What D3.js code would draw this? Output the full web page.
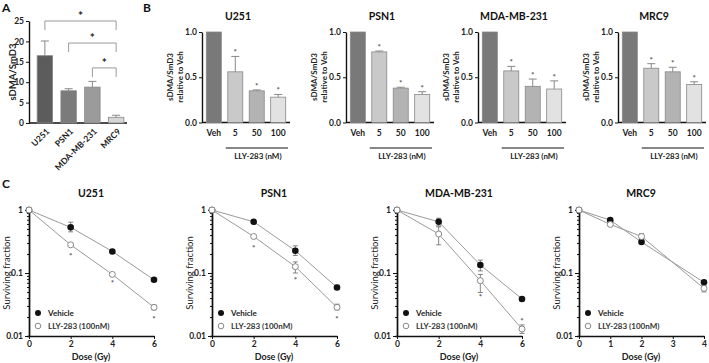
<!DOCTYPE html>
<html>
<head>
<meta charset="utf-8">
<script src="https://cdn.jsdelivr.net/npm/d3@7"></script>
<style>
  body { margin: 0; background: #fff; }
  svg { font-family: Lato, "Open Sans", sans-serif; font-weight: bold; }
</style>
</head>
<body>
<div id="fig"></div>
<script>
// ---- Panel A data
const cellLinesA = ["U251", "PSN1", "MDA-MB-231", "MRC9"];
const ratioA = [16.5, 7.9, 8.8, 1.4];
const ratioErrA = [3.6, 0.5, 1.4, 0.5];
const yTicksA = [0, 5, 10, 15, 20, 25];
// pairs compared, and bracket height in data units
const bracketPairsA = [["U251", "MRC9"], ["PSN1", "MRC9"], ["MDA-MB-231", "MRC9"]];
const bracketLevelA = [25, 19.6, 13.5];

// ---- Panel B data
const dosesB = ["Veh", "5", "50", "100"];
const titlesB = ["U251", "PSN1", "MDA-MB-231", "MRC9"];
const relB = [
  [1.0, 0.56, 0.35, 0.28],
  [1.0, 0.78, 0.38, 0.31],
  [1.0, 0.57, 0.40, 0.37],
  [1.0, 0.60, 0.56, 0.42]
];
const relErrB = [
  [0, 0.17, 0.01, 0.03],
  [0, 0.01, 0.01, 0.03],
  [0, 0.05, 0.08, 0.09],
  [0, 0.05, 0.05, 0.03]
];
const yTicksB = [0, 0.5, 1.0];

// ---- Panel C data
const titlesC = ["U251", "PSN1", "MDA-MB-231", "MRC9"];
const doseC = [[0, 2, 4, 6], [0, 2, 4, 6], [0, 2, 4, 6], [0, 1, 2, 4]];
const xTicksC = [[0, 2, 4, 6], [0, 2, 4, 6], [0, 2, 4, 6], [0, 1, 2, 3, 4]];
const vehC = [
  [1, 0.53, 0.22, 0.078],
  [1, 0.65, 0.226, 0.059],
  [1, 0.65, 0.134, 0.0387],
  [1, 0.69, 0.31, 0.071]
];
const vehHiC = [
  [1, 0.64, 0.23, 0.082],
  [1, 0.67, 0.27, 0.064],
  [1, 0.74, 0.16, 0.040],
  [1, 0.72, 0.32, 0.073]
];
const vehLoC = [
  [1, 0.45, 0.21, 0.074],
  [1, 0.63, 0.19, 0.055],
  [1, 0.56, 0.108, 0.037],
  [1, 0.66, 0.30, 0.069]
];
const llyC = [
  [1, 0.28, 0.095, 0.0285],
  [1, 0.38, 0.126, 0.0285],
  [1, 0.416, 0.0755, 0.0129],
  [1, 0.59, 0.38, 0.057]
];
const llyHiC = [
  [1, 0.29, 0.10, 0.031],
  [1, 0.40, 0.15, 0.032],
  [1, 0.54, 0.095, 0.015],
  [1, 0.61, 0.42, 0.063]
];
const llyLoC = [
  [1, 0.27, 0.09, 0.026],
  [1, 0.36, 0.10, 0.026],
  [1, 0.28, 0.049, 0.011],
  [1, 0.57, 0.34, 0.050]
];
// significance marks: [dose, surviving-fraction level where the * sits]
const starsC = [
  [[2, 0.193], [4, 0.072], [6, 0.0193]],
  [[2, 0.261], [4, 0.079], [6, 0.0195]],
  [[4, 0.043], [6, 0.018]],
  []
];
const yTicksC = [1, 0.1, 0.01];

const svg = d3.select("#fig").append("svg")
    .attr("width", 709)
    .attr("height", 363);

// panel letters
svg.selectAll("text.letter")
  .data([["A", 2, 12], ["B", 143, 12], ["C", 2, 188]])
  .join("text")
    .attr("class", "letter")
    .attr("x", d => d[1])
    .attr("y", d => d[2])
    .attr("font-size", 12)
    .attr("fill", "#111")
    .text(d => d[0]);

function styleAxis(g) {
  g.select(".domain").attr("stroke", "#111").attr("stroke-width", 1.4);
  g.selectAll(".tick line").attr("stroke", "#111").attr("stroke-width", 1);
  g.selectAll(".tick text").attr("font-size", 8.5).attr("fill", "#222")
    .attr("font-family", "Lato, sans-serif").attr("font-weight", "bold");
}

// ================= Panel A =================
{
  const y = d3.scaleLinear().domain([0, 25]).range([123, 21]);
  const x = d3.scaleBand().domain(cellLinesA).range([33, 128])
      .paddingInner(0.35).paddingOuter(0.175);
  const fills = ["#5c5c5c", "#7b7b7b", "#9b9b9b", "#d6d6d6"];
  const g = svg.append("g");

  g.append("g").attr("transform", "translate(29,0)")
    .call(d3.axisLeft(y).tickValues(yTicksA).tickSize(3).tickPadding(2).tickSizeOuter(0))
    .call(styleAxis);
  g.append("line").attr("x1", 29).attr("x2", 127).attr("y1", 123).attr("y2", 123)
    .attr("stroke", "#111").attr("stroke-width", 1.4);

  const rows = cellLinesA.map((c, i) => ({c, v: ratioA[i], e: ratioErrA[i], f: fills[i]}));
  g.selectAll("rect.bar").data(rows).join("rect")
    .attr("x", d => x(d.c)).attr("width", x.bandwidth())
    .attr("y", d => y(d.v)).attr("height", d => y(0) - y(d.v))
    .attr("fill", d => d.f).attr("stroke", "#888").attr("stroke-width", 0.8);
  g.selectAll("path.err").data(rows).join("path")
    .attr("fill", "none").attr("stroke", "#888").attr("stroke-width", 1)
    .attr("d", d => {
      const cx = x(d.c) + x.bandwidth() / 2;
      return `M${cx},${y(d.v)}V${y(d.v + d.e)}M${cx - 4},${y(d.v + d.e)}H${cx + 4}`;
    });

  g.selectAll("text.xl").data(cellLinesA).join("text")
    .attr("transform", d => `translate(${x(d) + x.bandwidth() / 2 + 5},132) rotate(-45)`)
    .attr("text-anchor", "end").attr("font-size", 8.5).attr("fill", "#222")
    .text(d => d);

  g.append("text")
    .attr("transform", `translate(16,72) rotate(-90)`)
    .attr("text-anchor", "middle").attr("font-size", 9.5).attr("fill", "#222")
    .text("sDMA/SmD3");

  bracketPairsA.forEach(([a, b], i) => {
    const x1 = x(a) + x.bandwidth() / 2, x2 = x(b) + x.bandwidth() / 2;
    const yy = y(bracketLevelA[i]);
    g.append("path").attr("fill", "none").attr("stroke", "#999").attr("stroke-width", 1)
      .attr("d", `M${x1},${yy + 9}V${yy}H${x2}V${yy + 9}`);
    g.append("text").attr("x", (x1 + x2) / 2).attr("y", yy - 1)
      .attr("text-anchor", "middle").attr("font-size", 12).attr("fill", "#222").text("*");
  });
}

// ================= Panel B =================
const axisXB = [202, 346, 478, 618];
titlesB.forEach((title, k) => {
  const x0 = axisXB[k];
  const y = d3.scaleLinear().domain([0, 1]).range([122.5, 32]);
  const x = d3.scaleBand().domain(dosesB).range([x0, x0 + 88])
      .paddingInner(0.3).paddingOuter(0.2);
  const fills = ["#797979", "#c9c9c9", "#b3b3b3", "#e2e2e2"];
  const g = svg.append("g");

  g.append("text").attr("x", x0 + 36).attr("y", 20).attr("text-anchor", "middle")
    .attr("font-size", 10.5).attr("fill", "#111").text(title);

  g.append("g").attr("transform", `translate(${x0},0)`)
    .call(d3.axisLeft(y).tickValues(yTicksB).tickFormat(d3.format(".1f"))
      .tickSize(3).tickPadding(2).tickSizeOuter(0))
    .call(styleAxis);
  g.append("line").attr("x1", x0).attr("x2", x0 + 88).attr("y1", 122.5).attr("y2", 122.5)
    .attr("stroke", "#111").attr("stroke-width", 1.4);

  const rows = dosesB.map((d, i) => ({d, v: relB[k][i], e: relErrB[k][i], f: fills[i]}));
  g.selectAll("rect").data(rows).join("rect")
    .attr("x", d => x(d.d)).attr("width", x.bandwidth())
    .attr("y", d => y(d.v)).attr("height", d => y(0) - y(d.v))
    .attr("fill", d => d.f).attr("stroke", "#888").attr("stroke-width", 0.8);
  g.selectAll("path.err").data(rows.filter(d => d.e > 0)).join("path")
    .attr("fill", "none").attr("stroke", "#888").attr("stroke-width", 1)
    .attr("d", d => {
      const cx = x(d.d) + x.bandwidth() / 2;
      return `M${cx},${y(d.v)}V${y(d.v + d.e)}M${cx - 4},${y(d.v + d.e)}H${cx + 4}`;
    });
  g.selectAll("text.star").data(rows.filter(d => d.d !== "Veh")).join("text")
    .attr("x", d => x(d.d) + x.bandwidth() / 2).attr("y", d => y(d.v + d.e) - 1)
    .attr("text-anchor", "middle").attr("font-size", 8).attr("fill", "#555").text("*");

  g.selectAll("text.xl").data(dosesB).join("text")
    .attr("x", d => x(d) + x.bandwidth() / 2).attr("y", 136)
    .attr("text-anchor", "middle").attr("font-size", 8.5).attr("fill", "#222").text(d => d);

  g.append("line").attr("x1", x("5") - 2).attr("x2", x0 + 86).attr("y1", 148).attr("y2", 148)
    .attr("stroke", "#111").attr("stroke-width", 1);
  g.append("text").attr("x", (x("5") + x0 + 86) / 2).attr("y", 159)
    .attr("text-anchor", "middle").attr("font-size", 8).attr("fill", "#222")
    .text("LLY-283 (nM)");

  g.append("text").attr("transform", `translate(${x0 - 29},77) rotate(-90)`)
    .attr("text-anchor", "middle").attr("font-size", 8).attr("fill", "#222")
    .selectAll("tspan").data(["sDMA/SmD3", "relative to Veh"]).join("tspan")
      .attr("x", 0).attr("dy", (d, i) => i === 0 ? 0 : 10).text(d => d);
});

// ================= Panel C =================
const axisXC = [29, 212, 397, 579];
titlesC.forEach((title, k) => {
  const x0 = axisXC[k];
  const doses = doseC[k];
  const x = d3.scaleLinear().domain([0, d3.max(doses)]).range([x0, x0 + 125]);
  const y = d3.scaleLog().domain([0.01, 1]).range([336, 210]);
  const g = svg.append("g");

  g.append("text").attr("x", x0 + 62).attr("y", 197).attr("text-anchor", "middle")
    .attr("font-size", 10.5).attr("fill", "#111").text(title);

  // minor log ticks
  g.append("g").attr("transform", `translate(${x0},0)`)
    .call(d3.axisLeft(y).tickValues(y.ticks()).tickSize(2).tickFormat(""))
    .call(styleAxis);
  g.append("g").attr("transform", `translate(${x0},0)`)
    .call(d3.axisLeft(y).tickValues(yTicksC).tickFormat(d3.format("~g"))
      .tickSize(4).tickPadding(2).tickSizeOuter(0))
    .call(styleAxis);
  g.append("g").attr("transform", `translate(0,336)`)
    .call(d3.axisBottom(x).tickValues(xTicksC[k]).tickFormat(d3.format("d"))
      .tickSize(3).tickPadding(2).tickSizeOuter(0))
    .call(styleAxis);

  const veh = doses.map((d, i) => ({d, v: vehC[k][i], hi: vehHiC[k][i], lo: vehLoC[k][i]}));
  const lly = doses.map((d, i) => ({d, v: llyC[k][i], hi: llyHiC[k][i], lo: llyLoC[k][i]}));
  const line = d3.line().x(d => x(d.d)).y(d => y(d.v));

  [veh, lly].forEach(series => {
    g.append("path").datum(series).attr("d", line)
      .attr("fill", "none").attr("stroke", "#9a9a9a").attr("stroke-width", 1);
  });
  [veh, lly].forEach(series => {
    g.selectAll(null).data(series.filter(d => d.hi !== d.lo)).join("path")
      .attr("fill", "none").attr("stroke", "#666").attr("stroke-width", 0.8)
      .attr("d", d => `M${x(d.d)},${y(d.lo)}V${y(d.hi)}M${x(d.d) - 2.5},${y(d.hi)}H${x(d.d) + 2.5}M${x(d.d) - 2.5},${y(d.lo)}H${x(d.d) + 2.5}`);
  });
  g.selectAll(null).data(veh).join("circle")
    .attr("cx", d => x(d.d)).attr("cy", d => y(d.v)).attr("r", 3.3)
    .attr("fill", "#111");
  g.selectAll(null).data(lly).join("circle")
    .attr("cx", d => x(d.d)).attr("cy", d => y(d.v)).attr("r", 3)
    .attr("fill", "#fff").attr("stroke", "#888").attr("stroke-width", 1);

  g.selectAll(null).data(starsC[k]).join("text")
    .attr("x", d => x(d[0])).attr("y", d => y(d[1]) + 4)
    .attr("text-anchor", "middle").attr("font-size", 8).attr("fill", "#555").text("*");

  // legend
  g.append("circle").attr("cx", x0 + 9).attr("cy", 313).attr("r", 3).attr("fill", "#111");
  g.append("circle").attr("cx", x0 + 9).attr("cy", 326).attr("r", 2.8)
    .attr("fill", "#fff").attr("stroke", "#888");
  g.append("text").attr("x", x0 + 19).attr("y", 316).attr("font-size", 8).attr("fill", "#222").text("Vehicle");
  g.append("text").attr("x", x0 + 19).attr("y", 329).attr("font-size", 8).attr("fill", "#333")
    .text("LLY-283 (100nM)");

  g.append("text").attr("transform", `translate(${x0 - 19},273) rotate(-90)`)
    .attr("text-anchor", "middle").attr("font-size", 9.5).attr("fill", "#222")
    .attr("font-weight", "normal").text("Surviving fraction");
  g.append("text").attr("x", x0 + 62).attr("y", 360).attr("text-anchor", "middle")
    .attr("font-size", 9).attr("fill", "#222").text("Dose (Gy)");
});
</script>
</body>
</html>
